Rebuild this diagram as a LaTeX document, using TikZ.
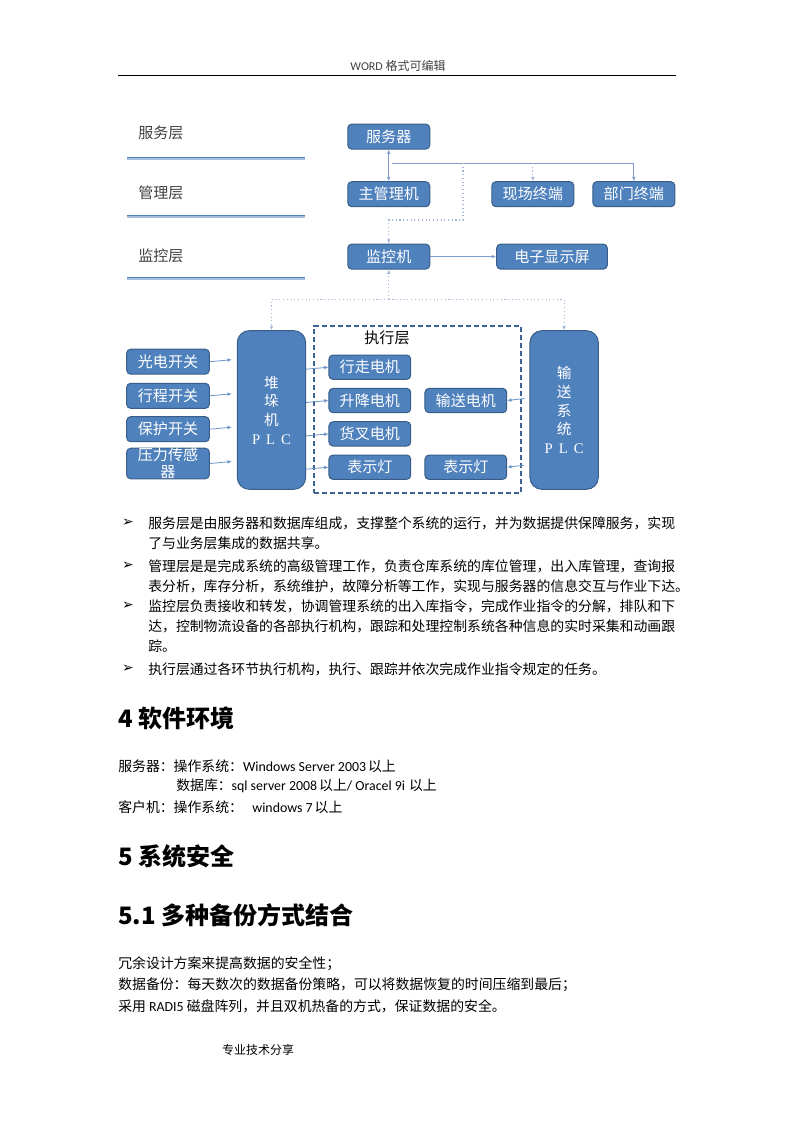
\documentclass[tikz,border=0pt]{standalone}
\usepackage{fontspec}
\setmainfont{Noto Sans CJK SC}
\newfontfamily\latinfont{Carlito}
\newfontfamily\symfont{DejaVu Sans}
\newfontfamily\seriffont{Liberation Serif}
\usetikzlibrary{positioning,arrows.meta,calc}

\definecolor{boxblue}{HTML}{4F81BD}
\definecolor{boxedge}{HTML}{385D8A}
\definecolor{linkblue}{HTML}{7E9CCD}
\definecolor{dotblue}{HTML}{A3B6DA}
\definecolor{layerpale}{HTML}{A7BFDE}
\definecolor{textgray}{HTML}{404040}

\XeTeXlinebreaklocale "zh"
\XeTeXlinebreakskip=0pt plus 1pt minus 0.6pt
\newcommand{\fullline}[1]{\makebox[396pt][s]{#1}}
\newcommand{\plcletters}{{\seriffont P\hspace{4.5pt}L\hspace{4.5pt}C}}

\begin{document}
\begin{tikzpicture}[x=0.75pt,y=-0.75pt,
    box/.style={draw=boxedge, line width=0.75pt, fill=boxblue, rounded corners=3pt,
      text=white, minimum width=61.5pt, minimum height=18.75pt, inner sep=0pt,
      font=\fontsize{11.3}{13}\selectfont},
    plc/.style={box, rounded corners=9pt, minimum width=51.3pt, minimum height=119pt,
      align=center, font=\fontsize{11}{14}\selectfont},
    execframe/.style={draw=boxedge!80!boxblue, line width=1.5pt, dash pattern=on 4pt off 2pt,
      minimum width=155.25pt, minimum height=125.25pt, inner sep=0pt},
    link/.style={draw=linkblue, line width=0.6pt},
    dots/.style={draw=dotblue, line width=0.8pt, dotted},
    arr/.style={-{Latex[length=3.2pt,width=2.8pt]}},
    darr/.style={{Latex[length=3.2pt,width=2.8pt]}-{Latex[length=3.2pt,width=2.8pt]}},
    layer/.style={anchor=west, inner sep=0pt, text=textgray, font=\fontsize{11.3}{13}\selectfont},
    body/.style={anchor=west, inner sep=0pt, font=\fontsize{10.4}{13}\selectfont},
    bullet/.style={inner sep=0pt, font=\symfont\fontsize{10.5}{12}\selectfont},
    head/.style={anchor=west, inner sep=0pt, font=\fontsize{18}{22}\selectfont\bfseries}]

\useasboundingbox (0,0) rectangle (794,1123);

% page header
\node[inner sep=0pt, text=textgray, font=\fontsize{9}{11}\selectfont] (header) at (398,66) {{\latinfont WORD} 格式可编辑};
\draw[line width=0.6pt] (118,75) -- (676,75);

% layer labels
\node[layer] (svclayer) at (138,132.5) {服务层};
\node[layer] (mgrlayer) at (138,193) {管理层};
\node[layer] (monlayer) at (138,256) {监控层};
\foreach \ly in {158,216,278} {
  \draw[layerpale, line width=1.4pt] (127,\ly+1) -- (305,\ly+1);
  \draw[boxblue, line width=1pt] (127,\ly-0.6) -- (305,\ly-0.6);
}

% upper nodes
\node[box] (server) at (388.75,136.6) {服务器};
\node[box] (mgr) at (388.75,194.2) {主管理机};
\node[box] (site) at (532.85,194.2) {现场终端};
\node[box] (dept) at (633.85,194.2) {部门终端};
\node[box] (monitor) at (388.75,256.6) {监控机};
\node[box, minimum width=83pt] (screen) at (552,256.6) {电子显示屏};

% PLCs
\node[plc] (stacker) at (271.5,410) {堆\\垛\\机\\\plcletters};
\node[plc] (conveyor) at (564.15,410) {输\\送\\系\\统\\\plcletters};

% sensors
\node[box, minimum width=62pt] (photo) at (168,361.7) {光电开关};
\node[box, minimum width=62pt] (travel) at (168,395.8) {行程开关};
\node[box, minimum width=62pt] (guard) at (168,429.2) {保护开关};
\node[box, minimum width=62pt, align=center, font=\fontsize{11.3}{12.5}\selectfont] (press) at (168,463.5) {压力传感\\器};

% execution layer
\node[execframe] (execlayer) at (417.5,409.5) {};
\node[inner sep=0pt, font=\fontsize{11.3}{13}\selectfont] (execlabel) at (387,338) {执行层};
\node[box, minimum width=61.3pt, minimum height=18.25pt] (walk) at (369.85,367.2) {行走电机};
\node[box, minimum width=61.3pt, minimum height=18.25pt] (lift) at (369.85,400.5) {升降电机};
\node[box, minimum width=61.3pt, minimum height=18.25pt] (fork) at (369.85,433.9) {货叉电机};
\node[box, minimum width=61.3pt, minimum height=18.25pt] (lampa) at (369.85,467.2) {表示灯};
\node[box, minimum width=61.3pt, minimum height=18.25pt] (belt) at (465.85,400.5) {输送电机};
\node[box, minimum width=61.3pt, minimum height=18.25pt] (lampb) at (465.85,467.2) {表示灯};

% top connectors
\coordinate (split) at (391.5,163);
\coordinate (tap) at (463,163);
\coordinate (turn) at (463,220);
\coordinate (bus) at (388.75,299.5);
\draw[link, darr] (server) -- (mgr);
\draw[link, arr] (split) -| (dept.north);
\draw[dots, arr] (site.north |- split) -- (site.north);
\draw[dots, arr] (tap) -- (turn) -| (monitor.north);
\draw[link, arr] (monitor) -- (screen);
\draw[dots, arr] (bus) -- (monitor.south);
\draw[dots, arr] (bus) -| (stacker.north);
\draw[dots, arr] (bus) -| (conveyor.north);

% sensors to stacker PLC
\foreach \s in {photo,travel,guard,press}
  \draw[link, draw=boxblue!85, arr] (\s.east) -- ($(stacker.west |- \s.east)+(-5,-2)$);
% stacker PLC to motors
\foreach \m in {walk,lift,fork,lampa}
  \draw[link, draw=boxblue!85, arr] ($(stacker.east |- \m.west)+(0,2)$) -- (\m.west);
% conveyor PLC to its motor and lamp
\foreach \m in {belt,lampb}
  \draw[link, draw=boxblue!85, arr] ($(conveyor.west |- \m.east)+(-5,-2)$) -- (\m.east);

% layer notes
\foreach \by in {523,566,606,669}
  \node[bullet] at (128,\by) {➢};
\node[body] (note1) at (148,523) {\fullline{服务层是由服务器和数据库组成，支撑整个系统的运行，并为数据提供保障服务，实现}};
\node[body] (note1b) at (148,543) {了与业务层集成的数据共享。};
\node[body] (note2) at (148,566) {\fullline{管理层是是完成系统的高级管理工作，负责仓库系统的库位管理，出入库管理，查询报}};
\node[body] (note2b) at (148,586) {\fullline{表分析，库存分析，系统维护，故障分析等工作，实现与服务器的信息交互与作业下达。}};
\node[body] (note3) at (148,606) {\fullline{监控层负责接收和转发，协调管理系统的出入库指令，完成作业指令的分解，排队和下}};
\node[body] (note3b) at (148,626) {\fullline{达，控制物流设备的各部执行机构，跟踪和处理控制系统各种信息的实时采集和动画跟}};
\node[body] (note3c) at (148,646) {踪。};
\node[body] (note4) at (148,669) {执行层通过各环节执行机构，执行、跟踪并依次完成作业指令规定的任务。};

% section 4
\node[head] (sec4) at (118,718) {4 软件环境};
\node[body] (envsrv) at (118,766) {服务器：操作系统：{\latinfont Windows Server 2003}\hspace{1.5pt}以上};
\node[body] (envdb) at (176,786) {数据库：{\latinfont sql server 2008}\hspace{1.5pt}以上{\latinfont / Oracel 9i}\hspace{3pt}以上};
\node[body] (envcli) at (118,807) {客户机：操作系统：\hspace{7pt}{\latinfont windows 7}\hspace{1.5pt}以上};

% section 5
\node[head] (sec5) at (118,856) {5 系统安全};
\node[head] (sec51) at (118,915) {5.1 多种备份方式结合};
\node[body] (safe1) at (118,964) {冗余设计方案来提高数据的安全性；};
\node[body] (safe2) at (118,985) {数据备份：每天数次的数据备份策略，可以将数据恢复的时间压缩到最后；};
\node[body] (safe3) at (118,1006) {采用 {\latinfont RADI5} 磁盘阵列，并且双机热备的方式，保证数据的安全。};

% page footer
\node[inner sep=0pt, font=\fontsize{9}{11}\selectfont] (footer) at (258,1050) {专业技术分享};
\end{tikzpicture}
\end{document}
